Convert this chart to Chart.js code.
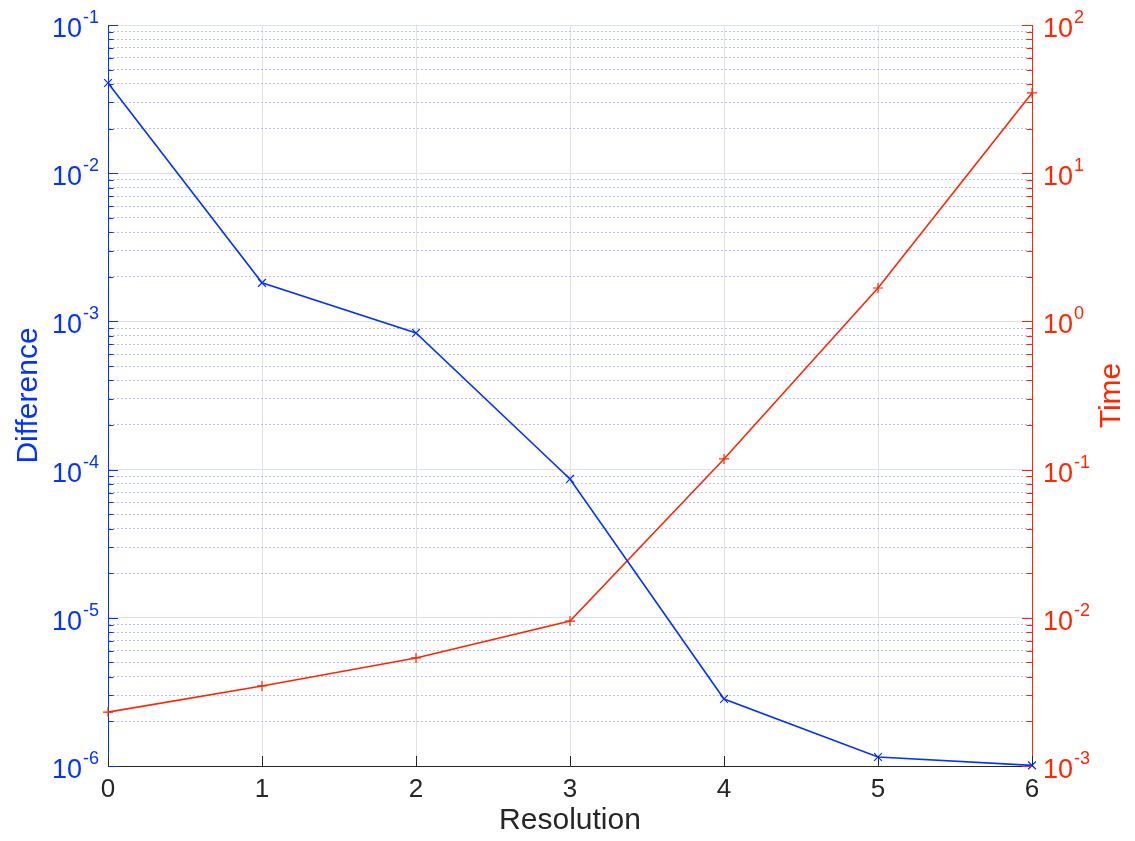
<!DOCTYPE html>
<html>
<head>
<meta charset="utf-8">
<script src="https://cdn.jsdelivr.net/npm/chart.js@4/dist/chart.umd.min.js"></script>
<style>
  html, body { margin: 0; padding: 0; background: #fff; }
  #wrap { width: 1135px; height: 841px; }
</style>
</head>
<body>
<div id="wrap"><canvas id="chart"></canvas></div>
<script>
// values
const resolution = [0, 1, 2, 3, 4, 5, 6];
const difference = [0.0406, 0.00182, 0.000836, 8.65e-5, 2.83e-6, 1.15e-6, 1.01e-6];
const time = [0.00231, 0.00347, 0.00536, 0.0095, 0.118, 1.68, 34.8];

// tick labels (decade exponents) of the two log axes
const diffDecades = [-6, -5, -4, -3, -2, -1];
const timeDecades = [-3, -2, -1, 0, 1, 2];
const xTicks = [0, 1, 2, 3, 4, 5, 6];

const BLUE = '#0433ff';
const RED = '#ff2600';
const DARK = '#262626';
const FONT = '"Liberation Sans", Arial, Helvetica, sans-serif';

// 1..9 x 10^k between the first and last decade
function logTicks(decades) {
  let out = [];
  decades.forEach((d, i) => {
    let last = i == decades.length - 1;
    for (let m = 1; m <= (last ? 1 : 9); m++) {
      out.push({ value: m * Math.pow(10, d), major: m == 1 });
    }
  });
  return out;
}

function isDecade(v) {
  let l = Math.log10(v);
  return Math.abs(l - Math.round(l)) < 1e-6;
}

let decoration = {
  id: 'decoration',
  afterDraw(chart) {
    const { ctx, chartArea: a, scales } = chart;
    ctx.save();
    ctx.lineWidth = 1;

    // inward ticks on both y axes
    function yTicks(scale, x0, dir, color) {
      ctx.strokeStyle = color;
      scale.ticks.forEach(t => {
        let y = Math.round(scale.getPixelForValue(t.value)) + 0.5;
        let len = t.major ? 10 : 5.5;
        ctx.beginPath();
        ctx.moveTo(x0, y);
        ctx.lineTo(x0 + dir * len, y);
        ctx.stroke();
      });
    }
    yTicks(scales.y, a.left, 1, BLUE);
    yTicks(scales.y1, a.right, -1, RED);

    // inward ticks on the x axis
    ctx.strokeStyle = DARK;
    xTicks.forEach(v => {
      let x = Math.round(scales.x.getPixelForValue(v)) + 0.5;
      ctx.beginPath();
      ctx.moveTo(x, a.bottom);
      ctx.lineTo(x, a.bottom - 10);
      ctx.stroke();
    });

    // 10^n labels with a raised exponent
    function decadeLabel(scale, d, x, align, color) {
      let y = scale.getPixelForValue(Math.pow(10, d));
      let base = '10', exp = String(d);
      ctx.fillStyle = color;
      ctx.textBaseline = 'alphabetic';
      ctx.textAlign = 'left';
      ctx.font = '27px ' + FONT;
      let wb = ctx.measureText(base).width;
      ctx.font = '18px ' + FONT;
      let we = ctx.measureText(exp).width;
      let left = align == 'right' ? x - wb - we - 1 : x;
      ctx.font = '27px ' + FONT;
      ctx.fillText(base, left, y + 12);
      ctx.font = '18px ' + FONT;
      ctx.fillText(exp, left + wb + 1, y - 2);
    }
    diffDecades.forEach(d => decadeLabel(scales.y, d, a.left - 9, 'right', BLUE));
    timeDecades.forEach(d => decadeLabel(scales.y1, d, a.right + 11, 'left', RED));

    // right axis title, read bottom to top
    ctx.translate(1112, (a.top + a.bottom) / 2);
    ctx.rotate(-Math.PI / 2);
    ctx.font = '30px ' + FONT;
    ctx.fillStyle = RED;
    ctx.textAlign = 'center';
    ctx.textBaseline = 'middle';
    ctx.fillText('Time', 0, 0);
    ctx.restore();
  }
};

new Chart(document.getElementById('chart'), {
  type: 'line',
  data: {
    datasets: [{
      label: 'Difference',
      data: resolution.map((r, i) => ({ x: r, y: difference[i] })),
      yAxisID: 'y',
      borderColor: BLUE,
      borderWidth: 1.6,
      pointStyle: 'crossRot',
      pointRadius: 5.5,
      pointBorderColor: BLUE,
      pointBorderWidth: 1.2,
      clip: false,
      tension: 0
    }, {
      label: 'Time',
      data: resolution.map((r, i) => ({ x: r, y: time[i] })),
      yAxisID: 'y1',
      borderColor: RED,
      borderWidth: 1.6,
      pointStyle: 'cross',
      pointRadius: 5,
      pointBorderColor: RED,
      pointBorderWidth: 1.2,
      clip: false,
      tension: 0
    }]
  },
  options: {
    responsive: true,
    maintainAspectRatio: false,
    animation: false,
    layout: { padding: { top: 25, left: 0, right: 0, bottom: 0 } },
    plugins: { legend: { display: false }, tooltip: { enabled: false } },
    scales: {
      x: {
        type: 'linear',
        min: 0,
        max: 6,
        afterBuildTicks: s => { s.ticks = xTicks.map(v => ({ value: v })); },
        afterFit: s => { s.height = 75; },
        ticks: {
          color: DARK,
          font: { family: FONT, size: 26 },
          padding: 8,
          maxRotation: 0
        },
        grid: { color: '#e2e2e4', lineWidth: 1, drawTicks: false },
        border: { color: DARK, width: 1 },
        title: {
          display: true,
          text: 'Resolution',
          color: DARK,
          font: { family: FONT, size: 30 },
          padding: { top: 0, bottom: 2 }
        }
      },
      y: {
        type: 'logarithmic',
        position: 'left',
        min: 1e-6,
        max: 1e-1,
        afterBuildTicks: s => { s.ticks = logTicks(diffDecades); },
        afterFit: s => { s.width = 108; },
        ticks: { display: false },
        grid: {
          drawTicks: false,
          lineWidth: 1,
          color: c => isDecade(c.tick.value) ? '#dcdfff' : '#b9c0ff'
        },
        border: {
          color: BLUE,
          width: 1,
          dash: c => isDecade(c.tick.value) ? [] : [2, 2]
        },
        title: {
          display: true,
          text: 'Difference',
          color: BLUE,
          font: { family: FONT, size: 30 },
          padding: { top: 11, bottom: 0 }
        }
      },
      y1: {
        type: 'logarithmic',
        position: 'right',
        min: 1e-3,
        max: 1e2,
        afterBuildTicks: s => { s.ticks = logTicks(timeDecades); },
        afterFit: s => { s.width = 103; },
        ticks: { display: false },
        grid: { drawOnChartArea: false, drawTicks: false },
        border: { color: RED, width: 1 }
      }
    }
  },
  plugins: [decoration]
});
</script>
</body>
</html>
